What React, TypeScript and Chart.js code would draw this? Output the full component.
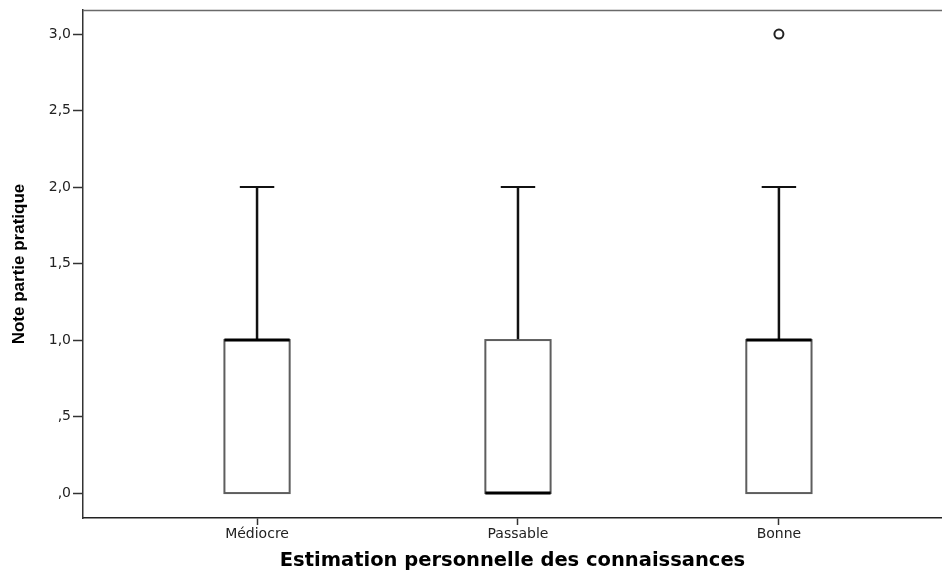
import React, { useEffect, useRef } from "react";
import { Chart, registerables } from "chart.js";

Chart.register(...registerables);

// ---- Data ----
const categories = ["Médiocre", "Passable", "Bonne"];
const whiskerMin = [0, 0, 0];
const quartile1 = [0, 0, 0];
const medians = [1, 0, 1];
const quartile3 = [1, 1, 1];
const whiskerMax = [2, 2, 2];
const outlierCategoryIndex = [2];
const outlierValues = [3.0];
const yTickValues = [0, 0.5, 1, 1.5, 2, 2.5, 3];
const yTickLabels = [",0", ",5", "1,0", "1,5", "2,0", "2,5", "3,0"];
const xTitle = "Estimation personnelle des connaissances";
const yTitle = "Note partie pratique";

// ---- Style constants ----
const BOX_HALF = 0.125;
const CAP_HALF = 0.066;

const boxPlotPlugin = {
  id: "boxPlotPlugin",
  beforeDatasetsDraw(chart: any) {
    const { ctx, chartArea } = chart;
    const xs = chart.scales.x;
    const ys = chart.scales.y;
    ctx.save();
    // top frame line
    ctx.strokeStyle = "#6a6a6a";
    ctx.lineWidth = 1.5;
    ctx.beginPath();
    ctx.moveTo(chartArea.left, chartArea.top + 0.5);
    ctx.lineTo(chartArea.right, chartArea.top + 0.5);
    ctx.stroke();

    categories.forEach((_, i) => {
      const pos = i + 1;
      const cx = xs.getPixelForValue(pos);
      const left = xs.getPixelForValue(pos - BOX_HALF);
      const right = xs.getPixelForValue(pos + BOX_HALF);
      const capL = xs.getPixelForValue(pos - CAP_HALF);
      const capR = xs.getPixelForValue(pos + CAP_HALF);
      const yQ1 = ys.getPixelForValue(quartile1[i]);
      const yQ3 = ys.getPixelForValue(quartile3[i]);
      const yMed = ys.getPixelForValue(medians[i]);
      const yMin = ys.getPixelForValue(whiskerMin[i]);
      const yMax = ys.getPixelForValue(whiskerMax[i]);

      // whiskers
      ctx.strokeStyle = "#111";
      ctx.lineWidth = 2.5;
      ctx.beginPath();
      ctx.moveTo(cx, yQ3);
      ctx.lineTo(cx, yMax);
      ctx.moveTo(cx, yQ1);
      ctx.lineTo(cx, yMin);
      ctx.stroke();
      ctx.lineWidth = 2;
      ctx.beginPath();
      ctx.moveTo(capL, yMax);
      ctx.lineTo(capR, yMax);
      ctx.moveTo(capL, yMin);
      ctx.lineTo(capR, yMin);
      ctx.stroke();

      // box
      ctx.fillStyle = "#ffffff";
      ctx.fillRect(left, yQ3, right - left, yQ1 - yQ3);
      ctx.strokeStyle = "#5e5e5e";
      ctx.lineWidth = 2;
      ctx.strokeRect(left, yQ3, right - left, yQ1 - yQ3);

      // median
      ctx.strokeStyle = "#000";
      ctx.lineWidth = 3;
      ctx.beginPath();
      ctx.moveTo(left, yMed);
      ctx.lineTo(right, yMed);
      ctx.stroke();
    });
    ctx.restore();
  },
};

export default function App() {
  const canvasRef = useRef<HTMLCanvasElement | null>(null);

  useEffect(() => {
    if (!canvasRef.current) return;
    const chart = new Chart(canvasRef.current, {
      type: "scatter",
      data: {
        datasets: [
          {
            label: "outliers",
            data: outlierCategoryIndex.map((ci, k) => ({ x: ci + 1, y: outlierValues[k] })),
            pointRadius: 4.5,
            pointBorderWidth: 2,
            borderColor: "#222",
            backgroundColor: "#fff",
            pointStyle: "circle",
          },
        ],
      },
      options: {
        responsive: false,
        animation: false,
        layout: { autoPadding: false, padding: { top: 10, left: 0, right: 0, bottom: 0 } },
        plugins: {
          legend: { display: false },
          tooltip: { enabled: false },
          title: { display: false },
        },
        scales: {
          x: {
            type: "linear",
            min: 0.333,
            max: 3.625,
            afterFit: (scale: any) => {
              scale.height = 55;
              scale.paddingLeft = 0;
              scale.paddingRight = 0;
            },
            afterBuildTicks: (scale: any) => {
              scale.ticks = categories.map((_, i) => ({ value: i + 1 }));
            },
            ticks: {
              autoSkip: false,
              maxRotation: 0,
              padding: 1,
              color: "#222",
              font: { family: "DejaVu Sans", size: 14 },
              callback: (_v: any, index: number) => categories[index],
            },
            grid: {
              display: true,
              drawOnChartArea: false,
              drawTicks: true,
              tickLength: 7,
              tickColor: "#333",
              tickWidth: 1.5,
              color: "#333",
            },
            border: { display: true, color: "#222", width: 1.5 },
            title: {
              display: true,
              text: xTitle,
              color: "#000",
              font: { family: "DejaVu Sans", size: 19.5, weight: "bold" },
              padding: { top: 0, bottom: 0 },
            },
          },
          y: {
            type: "linear",
            min: -0.163,
            max: 3.157,
            afterFit: (scale: any) => {
              scale.width = 83;
              scale.paddingTop = 0;
              scale.paddingBottom = 0;
            },
            afterBuildTicks: (scale: any) => {
              scale.ticks = yTickValues.map((v) => ({ value: v }));
            },
            ticks: {
              autoSkip: false,
              padding: 2,
              color: "#222",
              font: { family: "DejaVu Sans", size: 14 },
              callback: (_v: any, index: number) => yTickLabels[index],
            },
            grid: {
              display: true,
              drawOnChartArea: false,
              drawTicks: true,
              tickLength: 10,
              tickColor: "#333",
              tickWidth: 1.5,
              color: "#333",
            },
            border: { display: true, color: "#333", width: 1.5 },
            title: {
              display: true,
              text: yTitle,
              color: "#000",
              font: { family: "Liberation Sans", size: 17, weight: "bold" },
              padding: { top: 9, bottom: 0 },
            },
          },
        },
      },
      plugins: [boxPlotPlugin],
    });
    return () => chart.destroy();
  }, []);

  return (
    <div style={{ position: "absolute", left: 0, top: 0, width: 942, height: 573, background: "#fff" }}>
      <canvas ref={canvasRef} width={942} height={573} style={{ display: "block" }} />
    </div>
  );
}
